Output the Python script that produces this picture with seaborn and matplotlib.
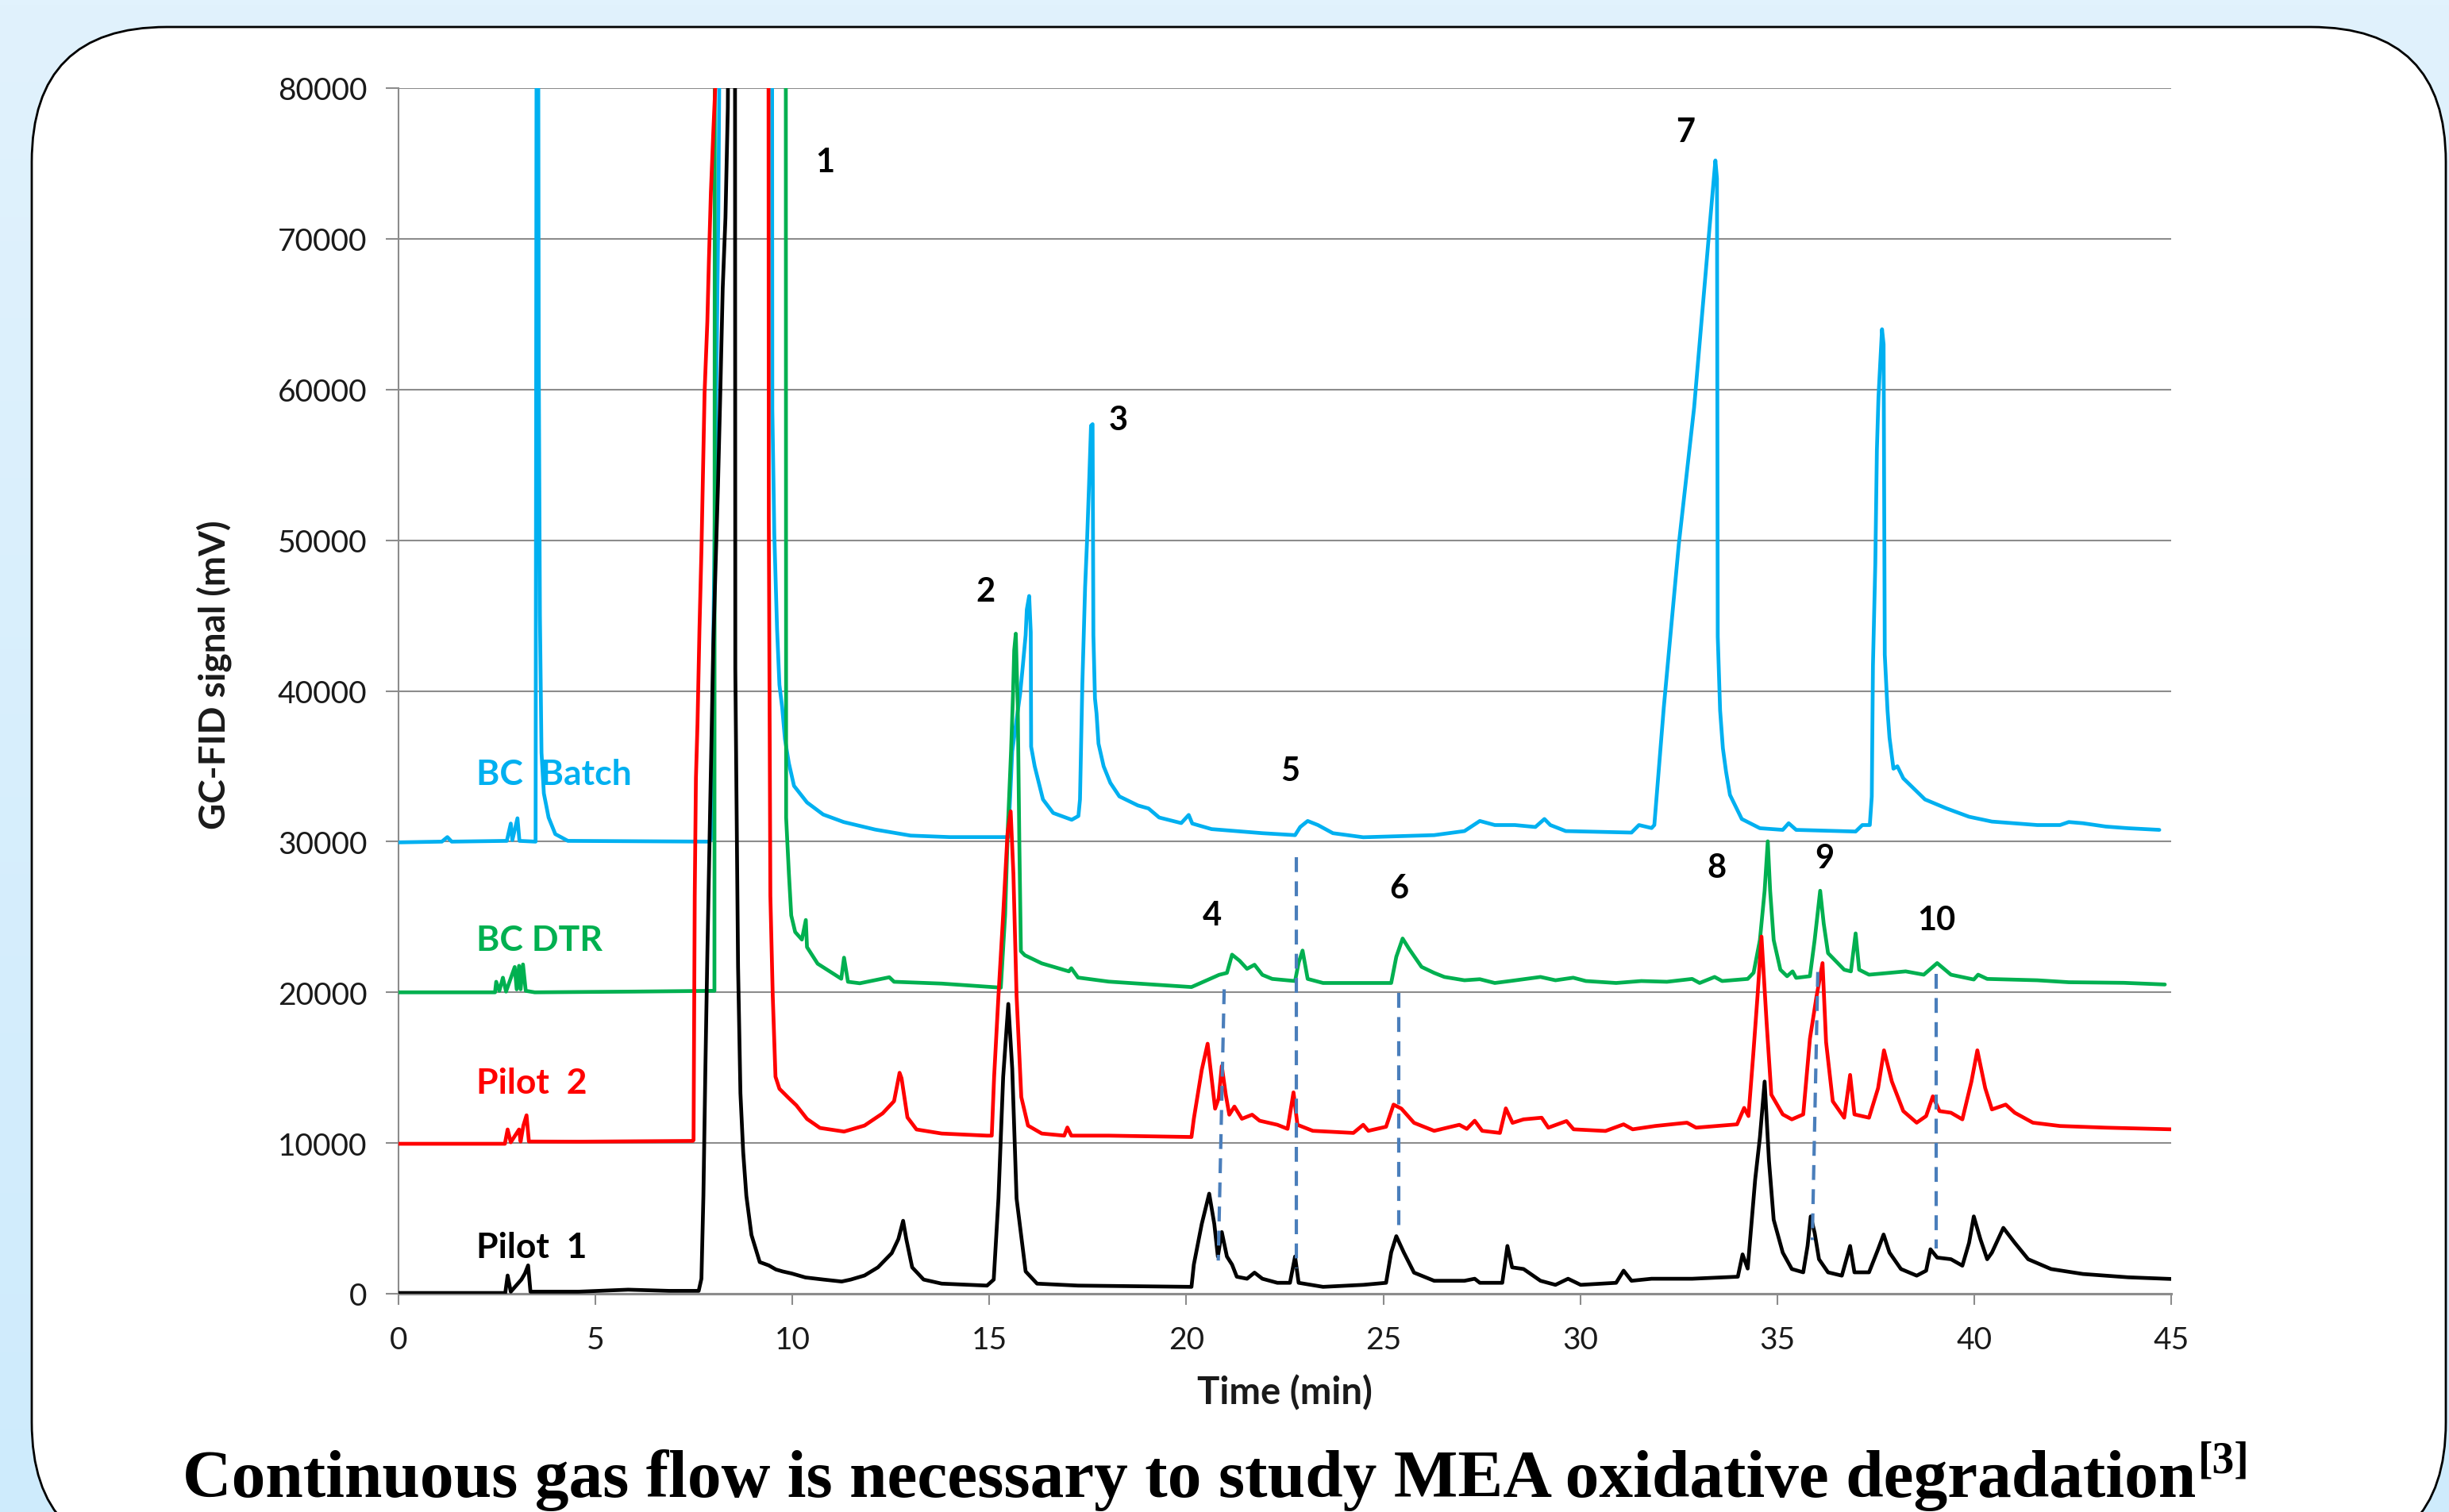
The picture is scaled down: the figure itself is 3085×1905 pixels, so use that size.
import matplotlib
matplotlib.use("Agg")
import matplotlib.pyplot as plt
from matplotlib.patches import FancyBboxPatch
import numpy as np
import pandas as pd
import seaborn as sns

# chromatogram traces, (time min, signal mV)
bc_batch = [(0, 29950), (1.1, 30000), (1.24, 30300), (1.35, 30000), (2.75, 30050), (2.85, 31200), (2.89, 30100),
            (3.02, 31550), (3.07, 30050), (3.48, 30000), (3.51, 95000), (3.54, 95000), (3.56, 62000), (3.59, 45000),
            (3.63, 35900), (3.69, 33200), (3.81, 31600), (3.98, 30500), (4.3, 30050), (7.9, 30000), (7.96, 30300),
            (7.99, 43000), (8.05, 56000), (8.12, 72000), (8.18, 95000), (9.48, 95000), (9.49, 58700), (9.54, 50400),
            (9.61, 44100), (9.67, 40400), (9.74, 38900), (9.81, 36800), (9.91, 35200), (10.04, 33700), (10.37, 32600),
            (10.78, 31800), (11.3, 31300), (12.1, 30800), (13.0, 30400), (14.0, 30300), (15.3, 30300), (15.48, 30300),
            (15.58, 36000), (15.78, 39800), (15.85, 41700), (15.92, 43700), (15.95, 45400), (16.01, 46300),
            (16.05, 43900), (16.06, 36300), (16.15, 35000), (16.36, 32800), (16.62, 31900), (17.09, 31450),
            (17.26, 31700), (17.3, 32800), (17.36, 40500), (17.43, 46900), (17.48, 50000), (17.53, 53700),
            (17.58, 57600), (17.62, 57700), (17.64, 43700), (17.68, 39500), (17.72, 38500), (17.77, 36500),
            (17.9, 35000), (18.07, 33900), (18.3, 33000), (18.77, 32400), (19.04, 32200), (19.31, 31600),
            (19.87, 31230), (20.06, 31770), (20.15, 31200), (20.64, 30830), (21.93, 30560), (22.76, 30430),
            (22.89, 30970), (23.08, 31370), (23.34, 31100), (23.72, 30560), (24.49, 30290), (26.29, 30430),
            (27.06, 30700), (27.45, 31370), (27.83, 31100), (28.34, 31100), (28.86, 30970), (29.09, 31500),
            (29.24, 31100), (29.63, 30700), (31.3, 30600), (31.49, 31100), (31.81, 30900), (31.88, 31100),
            (32.12, 38900), (32.5, 49700), (32.89, 58800), (33.28, 70700), (33.43, 75200), (33.47, 74000),
            (33.49, 43600), (33.55, 38700), (33.62, 36200), (33.7, 34650), (33.8, 33100), (34.1, 31500),
            (34.56, 30890), (35.14, 30780), (35.29, 31220), (35.48, 30780), (36.99, 30670), (37.16, 31100),
            (37.35, 31100), (37.4, 33000), (37.43, 41700), (37.49, 48500), (37.53, 56000), (37.57, 59500),
            (37.62, 62000), (37.66, 64000), (37.7, 63000), (37.73, 42400), (37.8, 38700), (37.85, 36900),
            (37.95, 34840), (38.05, 35000), (38.2, 34200), (38.75, 32800), (39.3, 32200), (39.87, 31650),
            (40.45, 31330), (41.6, 31100), (42.18, 31100), (42.4, 31300), (42.76, 31220), (43.34, 31000),
            (43.9, 30890), (44.7, 30780)]

bc_dtr = [(0, 20000), (2.45, 20000), (2.48, 20700), (2.56, 20100), (2.65, 20970), (2.73, 20050), (2.95, 21680),
          (3.0, 20200), (3.06, 21760), (3.1, 20200), (3.16, 21850), (3.23, 20100), (3.46, 20000), (6.0, 20050),
          (8.02, 20100), (8.03, 95000), (9.83, 95000), (9.84, 31600), (9.91, 27900), (9.97, 25100), (10.07, 24000),
          (10.24, 23500), (10.34, 24800), (10.37, 23000), (10.64, 21900), (11.24, 20900), (11.31, 22300),
          (11.41, 20700), (11.71, 20600), (12.46, 21000), (12.58, 20700), (13.79, 20580), (15.29, 20310),
          (15.4, 25150), (15.47, 31000), (15.55, 36000), (15.6, 39800), (15.63, 42700), (15.67, 43800),
          (15.72, 39000), (15.76, 30000), (15.8, 22730), (15.9, 22460), (16.33, 21920), (17.02, 21390),
          (17.08, 21600), (17.25, 20980), (18.03, 20710), (20.13, 20350), (20.71, 21020), (20.83, 21160),
          (21.03, 21290), (21.16, 22500), (21.35, 22100), (21.54, 21560), (21.73, 21830), (21.93, 21160),
          (22.18, 20890), (22.76, 20750), (22.85, 21960), (22.95, 22770), (23.08, 20890), (23.47, 20620),
          (25.2, 20620), (25.33, 22360), (25.49, 23570), (25.65, 22900), (25.97, 21690), (26.29, 21290),
          (26.55, 21020), (27.06, 20800), (27.45, 20870), (27.83, 20620), (28.22, 20750), (28.99, 21020),
          (29.37, 20800), (29.82, 20970), (30.14, 20750), (30.91, 20620), (31.55, 20750), (32.2, 20700),
          (32.84, 20890), (33.03, 20620), (33.41, 21020), (33.6, 20750), (34.25, 20890), (34.4, 21300),
          (34.56, 23470), (34.68, 26740), (34.76, 30020), (34.82, 26740), (34.91, 23470), (35.08, 21500),
          (35.25, 21070), (35.39, 21390), (35.48, 20960), (35.83, 21070), (35.95, 23470), (36.09, 26740),
          (36.18, 24560), (36.29, 22600), (36.7, 21500), (36.87, 21390), (36.99, 23910), (37.08, 21500),
          (37.33, 21170), (38.26, 21390), (38.72, 21170), (39.06, 21940), (39.41, 21170), (39.99, 20850),
          (40.1, 21170), (40.33, 20890), (41.6, 20800), (42.4, 20670), (43.8, 20630), (44.84, 20520)]

pilot_2 = [(0, 9950), (2.7, 9950), (2.77, 10900), (2.85, 10050), (3.06, 10900), (3.1, 10100), (3.17, 11160),
           (3.25, 11840), (3.31, 10100), (4.56, 10090), (7.47, 10140), (7.49, 10200), (7.52, 26400),
           (7.55, 34200), (7.59, 37800), (7.64, 44100), (7.69, 49300), (7.73, 54500), (7.77, 59800),
           (7.84, 64500), (7.88, 68600), (7.93, 73100), (7.99, 77000), (8.04, 80000), (8.08, 95000),
           (9.39, 95000), (9.4, 51400), (9.44, 26400), (9.5, 19800), (9.57, 14400), (9.67, 13600),
           (9.9, 13000), (10.1, 12500), (10.37, 11600), (10.7, 11000), (11.31, 10760), (11.83, 11160),
           (12.29, 11970), (12.58, 12780), (12.72, 14660), (12.77, 14300), (12.92, 11700), (13.15, 10900),
           (13.79, 10630), (14.94, 10490), (15.06, 10490), (15.12, 14390), (15.23, 19770), (15.35, 25150),
           (15.46, 30530), (15.54, 32010), (15.61, 27840), (15.69, 19770), (15.81, 13050), (15.98, 11160),
           (16.33, 10630), (16.9, 10490), (16.98, 11030), (17.08, 10490), (18.03, 10490), (20.13, 10400),
           (20.19, 11610), (20.39, 14840), (20.54, 16590), (20.64, 14300), (20.73, 12280), (20.82, 12960),
           (20.9, 15110), (21.0, 13220), (21.09, 11880), (21.22, 12420), (21.41, 11610), (21.67, 11880),
           (21.86, 11480), (22.31, 11210), (22.57, 10940), (22.72, 13360), (22.82, 11210), (23.21, 10810),
           (24.24, 10670), (24.49, 11210), (24.62, 10810), (25.07, 11080), (25.26, 12550), (25.46, 12280),
           (25.78, 11340), (26.29, 10810), (26.93, 11210), (27.12, 10940), (27.32, 11480), (27.51, 10810),
           (27.96, 10670), (28.11, 12300), (28.28, 11340), (28.56, 11570), (29.02, 11680), (29.19, 11020),
           (29.65, 11460), (29.83, 10910), (30.64, 10800), (31.1, 11240), (31.33, 10910), (31.9, 11130),
           (32.71, 11350), (32.94, 11020), (33.98, 11240), (34.16, 12330), (34.27, 11790), (34.39, 15830),
           (34.5, 19760), (34.6, 23700), (34.73, 18010), (34.85, 13210), (35.14, 11900), (35.37, 11570),
           (35.66, 11900), (35.83, 16920), (36.0, 19760), (36.15, 21940), (36.24, 16700), (36.41, 12770),
           (36.7, 11680), (36.85, 14520), (36.96, 11900), (37.33, 11680), (37.56, 13640), (37.71, 16150),
           (37.91, 14080), (38.2, 12120), (38.54, 11350), (38.78, 11790), (38.95, 13100), (39.12, 12120),
           (39.41, 12010), (39.7, 11570), (39.93, 14080), (40.08, 16150), (40.28, 13640), (40.45, 12230),
           (40.8, 12550), (41.03, 12010), (41.49, 11350), (42.18, 11130), (43.34, 11020), (45.0, 10910)]

pilot_1 = [(0, 50), (2.71, 50), (2.77, 1210), (2.85, 135), (3.12, 940), (3.21, 1345), (3.29, 1880), (3.35, 135),
           (4.56, 135), (5.83, 270), (6.87, 190), (7.62, 190), (7.69, 1000), (7.74, 6500), (7.79, 14900),
           (7.84, 22500), (7.89, 29300), (7.94, 35800), (7.99, 42900), (8.05, 48400), (8.11, 53600),
           (8.17, 59900), (8.23, 66700), (8.3, 71400), (8.36, 78700), (8.4, 95000), (8.54, 95000), (8.55, 41500),
           (8.62, 21700), (8.68, 13300), (8.75, 9400), (8.83, 6500), (8.96, 3900), (9.17, 2100), (9.4, 1880),
           (9.58, 1610), (9.75, 1480), (9.98, 1345), (10.33, 1080), (10.79, 940), (11.25, 810), (11.48, 940),
           (11.83, 1210), (12.17, 1750), (12.52, 2690), (12.69, 3630), (12.81, 4840), (12.89, 3630),
           (13.04, 1750), (13.33, 940), (13.79, 670), (14.94, 540), (15.11, 940), (15.23, 6320), (15.35, 14390),
           (15.48, 19230), (15.58, 14930), (15.69, 6320), (15.92, 1480), (16.21, 670), (17.25, 540),
           (20.13, 457), (20.19, 1935), (20.39, 4620), (20.58, 6640), (20.71, 4620), (20.8, 2470), (20.9, 4090),
           (21.03, 2470), (21.16, 1935), (21.28, 1130), (21.54, 995), (21.73, 1400), (21.93, 995), (22.31, 725),
           (22.63, 725), (22.76, 2470), (22.85, 725), (23.47, 457), (24.49, 590), (25.07, 725), (25.2, 2740),
           (25.33, 3820), (25.52, 2740), (25.78, 1400), (26.29, 860), (27.06, 860), (27.32, 995), (27.45, 725),
           (28.02, 725), (28.15, 3170), (28.27, 1750), (28.56, 1640), (28.99, 860), (29.37, 590), (29.69, 995),
           (30.01, 590), (30.91, 725), (31.1, 1530), (31.3, 860), (31.81, 995), (32.84, 995), (34.0, 1130),
           (34.12, 2610), (34.25, 1670), (34.44, 7580), (34.56, 10370), (34.68, 14080), (34.79, 8840),
           (34.91, 4910), (35.14, 2730), (35.37, 1640), (35.66, 1420), (35.77, 3170), (35.85, 5130),
           (35.95, 4040), (36.06, 2290), (36.29, 1420), (36.64, 1200), (36.85, 3170), (36.96, 1420),
           (37.33, 1420), (37.56, 2950), (37.7, 3930), (37.85, 2730), (38.14, 1640), (38.54, 1200),
           (38.78, 1530), (38.89, 2950), (39.06, 2400), (39.41, 2290), (39.7, 1860), (39.87, 3380),
           (39.99, 5130), (40.16, 3600), (40.33, 2290), (40.45, 2730), (40.74, 4370), (41.03, 3380),
           (41.37, 2290), (41.95, 1640), (42.76, 1310), (43.91, 1090), (45.0, 980)]

series_names = ["BC  Batch", "BC DTR", "Pilot  2", "Pilot  1"]
series_colors = ["#00B0F0", "#00B050", "#FF0000", "#000000"]
series_label_pos = [(1.98, 34500), (1.98, 23500), (1.98, 14000), (1.98, 3100)]

# dashed guide lines: (time top, signal top, time bottom, signal bottom)
guides = [(20.96, 20200, 20.81, 2200), (22.8, 28950, 22.8, 1700), (25.39, 19950, 25.39, 4200),
          (36.03, 21350, 35.89, 3560), (39.03, 21200, 39.03, 3000)]

peak_numbers = ["1", "2", "3", "4", "5", "6", "7", "8", "9", "10"]
peak_label_pos = [(10.82, 75100), (14.9, 46600), (18.28, 58000), (20.66, 25100), (22.64, 34700),
                  (25.4, 26900), (32.67, 77100), (33.46, 28300), (36.2, 28900), (39.05, 24800)]

x_ticks = list(range(0, 46, 5))
y_ticks = list(range(0, 80001, 10000))

sns.set_theme(style="white")
plt.rcParams["font.family"] = ["Lato", "DejaVu Sans"]

W, H = 3085, 1906
fig = plt.figure(figsize=(W / 100, H / 100), dpi=100)

# background gradient + rounded white panel
bg = fig.add_axes([0, 0, 1, 1], zorder=0)
grad = np.linspace(0, 1, 256).reshape(-1, 1)
top_c = np.array([225, 242, 253]) / 255
bot_c = np.array([206, 235, 252]) / 255
img = top_c[None, None, :] * (1 - grad[:, :, None]) + bot_c[None, None, :] * grad[:, :, None]
bg.imshow(img, extent=[0, W, 0, H], aspect="auto", origin="upper")
bg.add_patch(FancyBboxPatch((40, -57), 3041, 1871 + 57,
                            boxstyle="round,pad=0,rounding_size=170",
                            facecolor="white", edgecolor="black", lw=2.0))
bg.set_xlim(0, W)
bg.set_ylim(0, H)
bg.axis("off")

ax = fig.add_axes([502 / W, 1 - 1631 / H, (2735 - 502) / W, (1631 - 112) / H], zorder=1)
ax.patch.set_visible(False)

for name, pts, col in zip(series_names, [bc_batch, bc_dtr, pilot_2, pilot_1], series_colors):
    df = pd.DataFrame(pts, columns=["time", "signal"])
    sns.lineplot(data=df, x="time", y="signal", sort=False, estimator=None,
                 color=col, lw=3.4, ax=ax, zorder=3)

for t0, v0, t1, v1 in guides:
    ax.plot([t0, t1], [v0, v1], color="#4A7EBB", lw=3.0, dashes=(4.5, 2.8), zorder=4)

for name, (t, v), col in zip(series_names, series_label_pos, series_colors):
    ax.text(t, v, name, color=col, fontsize=32, fontweight="bold", ha="left", va="center", zorder=5)

for lab, (t, v) in zip(peak_numbers, peak_label_pos):
    ax.text(t, v, lab, color="black", fontsize=30, fontweight="bold", ha="center", va="center", zorder=5)

ax.set_xlim(0, 45)
ax.set_ylim(0, 80000)
ax.set_xticks(x_ticks)
ax.set_yticks(y_ticks)
ax.yaxis.grid(True, color="#8C8C8C", lw=1.5)
ax.xaxis.grid(False)
ax.set_axisbelow(True)
for s in ["top", "right"]:
    ax.spines[s].set_visible(False)
ax.spines["left"].set_color("#8C8C8C")
ax.spines["left"].set_linewidth(1.5)
ax.spines["bottom"].set_color("#8C8C8C")
ax.spines["bottom"].set_linewidth(2.2)
ax.tick_params(axis="x", direction="out", length=10, width=1.5, color="#8C8C8C",
               labelsize=28, labelcolor="#1a1a1a", pad=19, bottom=True)
ax.tick_params(axis="y", direction="out", length=11.5, width=1.5, color="#8C8C8C",
               labelsize=28, labelcolor="#1a1a1a", pad=17, left=True)

ax.set_xlabel("Time (min)", fontsize=34, fontweight="bold", color="#1a1a1a")
ax.set_ylabel("GC-FID signal (mV)", fontsize=33, fontweight="bold", color="#1a1a1a")
ax.xaxis.set_label_coords(0.5, (1631 - 1755) / 1519)
ax.xaxis.label.set_va("center")
ax.yaxis.set_label_coords((270 - 502) / 2233, (1631 - 850) / 1519)
ax.yaxis.label.set_va("center")

# title with superscript reference
title = fig.text(230 / W, 1 - 1886 / H, "Continuous gas flow is necessary to study MEA oxidative degradation",
                 family="Liberation Serif", fontweight="bold", fontsize=61.5, ha="left", va="baseline",
                 color="black")
fig.canvas.draw()
bb = title.get_window_extent()
fig.text(bb.x1 / W + 0.0008, 1 - 1856 / H, "[3]", family="Liberation Serif", fontweight="bold",
         fontsize=40, ha="left", va="baseline", color="black")

fig.savefig("out.png", dpi=100)
